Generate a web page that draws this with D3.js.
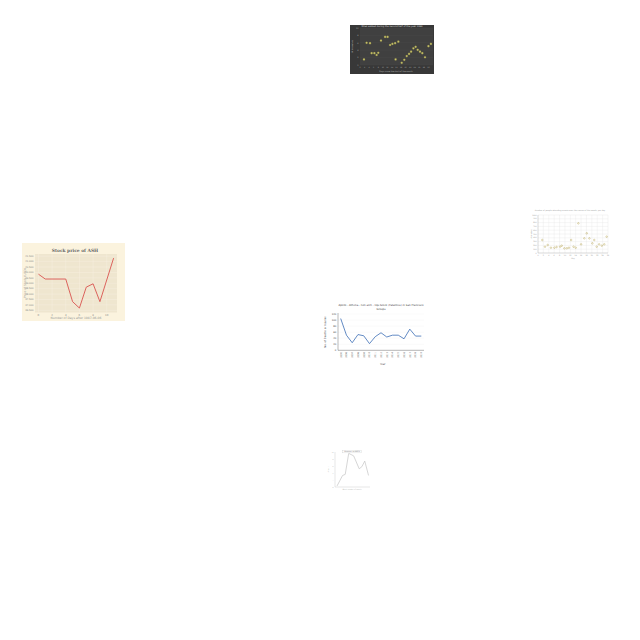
<!DOCTYPE html>
<html><head><meta charset="utf-8">
<script src="https://cdn.jsdelivr.net/npm/d3@7"></script>
<style>html,body{margin:0;padding:0;background:#fff;}svg{display:block;}</style>
</head><body>
<script>
// ---- Chart 1: stock price ----
const stockDays = [0, 1, 4, 5, 6, 7, 8, 9, 11];
const stockPrice = [39.84, 39.39, 39.39, 37.30, 36.71, 38.64, 38.95, 37.30, 41.32];
const stockYTicks = [36.5, 37.0, 37.5, 38.0, 38.5, 39.0, 39.5, 40.0, 40.5, 41.0, 41.5];
const stockXTicks = [0, 2, 4, 6, 8, 10];

// ---- Chart 2: dark scatter ----
const walkDay = [1.75, 2.9, 4.4, 5.1, 6.3, 7.3, 8.0, 9.2, 11, 12.1, 13.2, 14.2, 15.4, 15.6, 16.8, 18.3, 19.4, 20.5, 21.5, 22.4, 23.4, 24.4, 25.3, 26.3, 27.3, 28.5, 30, 31.1];
const walkMiles = [1.5, 6.0, 5.9, 3.2, 3.2, 2.7, 3.3, 6.6, 7.6, 7.6, 5.4, 5.7, 5.9, 1.5, 6.3, 0.6, 1.4, 2.4, 3.0, 3.6, 4.5, 4.9, 4.1, 3.6, 3.2, 2.1, 5.1, 5.7];
const walkXTicks = [0, 2, 4, 6, 8, 10, 12, 14, 16, 18, 20, 22, 24, 26, 28, 30];
const walkYTicks = [0, 2, 4, 6, 8, 10];

// ---- Chart 3: light scatter ----
const lightX = [1.6, 2.6, 3.6, 4.8, 6.1, 6.9, 8.2, 8.8, 9.8, 10.7, 11.5, 12.3, 13.2, 14, 15, 16, 17.2, 18.1, 19.1, 20.2, 20.9, 21.8, 22.7, 23.7, 24.6, 25.5];
const lightY = [342, 166, 211, 140, 140, 158, 166, 193, 123, 123, 140, 342, 166, 140, 781, 228, 386, 518, 386, 254, 342, 166, 228, 193, 228, 430];
const lightYTicks = [0, 100, 200, 300, 400, 500, 600, 700, 800, 900, 1000];
const lightXTicks = [0, 2, 4, 6, 8, 10, 12, 14, 16, 18, 20, 22, 24, 26];

// ---- Chart 4: blue line ----
const deathYears = ["2005","2006","2007","2008","2009","2010","2011","2012","2013","2014","2015","2016","2017","2018","2019"];
const deathCounts = [105, 50, 25, 52, 48, 22, 45, 58, 44, 50, 50, 38, 70, 47, 47];
const deathYTicks = [0, 20, 40, 60, 80, 100, 120];

// ---- Chart 5: gray line ----
const measureX = [0.7, 2.6, 3.5, 4.7, 6.4, 8.3, 9.2, 10.2, 11.5];
const measureY = [0.3, 3.3, 3.6, 9.6, 8.9, 5.2, 5.8, 7.4, 3.3];
const measureYTicks = [0, 2, 4, 6, 8, 10];

const svg = d3.select("body").append("svg").attr("width", 640).attr("height", 640);
const sans = "DejaVu Sans, sans-serif";

// ===== Chart 1 =====
{
  const g = svg.append("g");
  g.append("rect").attr("x", 22).attr("y", 243).attr("width", 103).attr("height", 78).attr("fill", "#fbf3de");
  const x = d3.scaleLinear().domain([-0.5, 11.5]).range([35, 117]);
  const y = d3.scaleLinear().domain([36.3, 41.7]).range([312.5, 254]);
  g.append("rect").attr("x", 35).attr("y", 254).attr("width", 82).attr("height", 58.5).attr("fill", "#efe6cf");
  g.selectAll(".gy").data(stockYTicks).join("line").attr("x1", 35).attr("x2", 117)
    .attr("y1", d => y(d)).attr("y2", d => y(d)).attr("stroke", "#f8f1e2").attr("stroke-width", 0.4);
  g.selectAll(".gx").data(stockXTicks).join("line").attr("y1", 254).attr("y2", 312.5)
    .attr("x1", d => x(d)).attr("x2", d => x(d)).attr("stroke", "#f8f1e2").attr("stroke-width", 0.4);
  g.selectAll(".ty").data(stockYTicks).join("text").attr("x", 33.5).attr("y", d => y(d) + 0.8)
    .attr("text-anchor", "end").attr("font-size", 2.4).attr("font-family", sans).attr("fill", "#8a8a8a")
    .text(d => d.toFixed(3));
  g.selectAll(".tx").data(stockXTicks).join("text").attr("x", d => x(d)).attr("y", 315.5)
    .attr("text-anchor", "middle").attr("font-size", 2.6).attr("font-family", sans).attr("fill", "#8a8a8a").text(d => d);
  g.append("path").datum(stockDays.map((d, i) => [d, stockPrice[i]]))
    .attr("d", d3.line().x(d => x(d[0])).y(d => y(d[1])))
    .attr("fill", "none").attr("stroke", "#d9534f").attr("stroke-width", 0.9);
  g.append("text").attr("x", 75).attr("y", 252).attr("text-anchor", "middle").attr("font-size", 4.4)
    .attr("font-weight", "bold").attr("font-family", "DejaVu Serif, serif").attr("fill", "#666").text("Stock price of ASH");
  g.append("text").attr("x", 76).attr("y", 319.3).attr("text-anchor", "middle").attr("font-size", 3)
    .attr("font-family", sans).attr("fill", "#999").text("Number of Days after 1987-06-06");
  g.append("text").attr("transform", "translate(25.5,283) rotate(-90)").attr("text-anchor", "middle")
    .attr("font-size", 3).attr("font-family", sans).attr("fill", "#999").text("Price of Stock (USD)");
}

// ===== Chart 2 =====
{
  const g = svg.append("g");
  g.append("rect").attr("x", 350).attr("y", 25).attr("width", 84).attr("height", 49).attr("fill", "#383838");
  const x = d3.scaleLinear().domain([0, 32]).range([360, 433]);
  const y = d3.scaleLinear().domain([0, 10]).range([65, 28]);
  g.append("rect").attr("x", 360).attr("y", 28).attr("width", 73).attr("height", 37).attr("fill", "#404040");
  g.selectAll(".gy").data(walkYTicks).join("line").attr("x1", 360).attr("x2", 433)
    .attr("y1", d => y(d)).attr("y2", d => y(d)).attr("stroke", "#4d4d4d").attr("stroke-width", 0.3);
  g.selectAll(".ty").data(walkYTicks).join("text").attr("x", 358.5).attr("y", d => y(d) + 0.7)
    .attr("text-anchor", "end").attr("font-size", 2).attr("font-family", sans).attr("fill", "#aaa").text(d => d);
  g.selectAll(".tx").data(walkXTicks).join("text").attr("x", d => x(d)).attr("y", 67.5)
    .attr("text-anchor", "middle").attr("font-size", 1.8).attr("font-family", sans).attr("fill", "#aaa").text(d => d);
  g.selectAll("circle").data(walkDay.map((d, i) => [d, walkMiles[i]])).join("circle")
    .attr("cx", d => x(d[0])).attr("cy", d => y(d[1])).attr("r", 1.1)
    .attr("fill", "#c9c46a").attr("stroke", "#6f6d3a").attr("stroke-width", 0.3);
  g.append("text").attr("x", 392).attr("y", 27.3).attr("text-anchor", "middle").attr("font-size", 2.3)
    .attr("font-family", sans).attr("fill", "#ddd").text("Miles walked during the second half of the year 1983");
  g.append("text").attr("x", 396).attr("y", 71.5).attr("text-anchor", "middle").attr("font-size", 2)
    .attr("font-family", sans).attr("fill", "#bbb").text("Days since the start of the month");
  g.append("text").attr("transform", "translate(353,46) rotate(-90)").attr("text-anchor", "middle")
    .attr("font-size", 2).attr("font-family", sans).attr("fill", "#bbb").text("Miles walked");
}

// ===== Chart 3 =====
{
  const g = svg.append("g");
  const x = d3.scaleLinear().domain([0, 26]).range([538, 608]);
  const y = d3.scaleLinear().domain([0, 1000]).range([253, 215]);
  g.selectAll(".gy").data(lightYTicks).join("line").attr("x1", 538).attr("x2", 608)
    .attr("y1", d => y(d)).attr("y2", d => y(d)).attr("stroke", "#e6e6e6").attr("stroke-width", 0.35);
  g.selectAll(".gx").data(lightXTicks).join("line").attr("y1", 215).attr("y2", 253)
    .attr("x1", d => x(d)).attr("x2", d => x(d)).attr("stroke", "#e6e6e6").attr("stroke-width", 0.35);
  g.append("line").attr("x1", 538).attr("x2", 608).attr("y1", 253).attr("y2", 253).attr("stroke", "#aaa").attr("stroke-width", 0.35);
  g.append("line").attr("x1", 538).attr("x2", 538).attr("y1", 215).attr("y2", 253).attr("stroke", "#aaa").attr("stroke-width", 0.35);
  g.selectAll(".ty").data(lightYTicks).join("text").attr("x", 536.5).attr("y", d => y(d) + 0.6)
    .attr("text-anchor", "end").attr("font-size", 1.7).attr("font-family", sans).attr("fill", "#999").text(d => d);
  g.selectAll(".tx").data(lightXTicks).join("text").attr("x", d => x(d)).attr("y", 255.5)
    .attr("text-anchor", "middle").attr("font-size", 1.7).attr("font-family", sans).attr("fill", "#999").text(d => d);
  g.selectAll("circle").data(lightX.map((d, i) => [d, lightY[i]])).join("circle")
    .attr("cx", d => x(d[0])).attr("cy", d => y(d[1])).attr("r", 0.8)
    .attr("fill", "none").attr("stroke", "#b09c45").attr("stroke-width", 0.4);
  g.append("text").attr("x", 570).attr("y", 211).attr("text-anchor", "middle").attr("font-size", 1.9)
    .attr("font-family", sans).attr("fill", "#999").text("Number of people attending events over the course of the month, per day");
  g.append("text").attr("x", 573).attr("y", 259).attr("text-anchor", "middle").attr("font-size", 1.8)
    .attr("font-family", sans).attr("fill", "#999").text("Day");
  g.append("text").attr("transform", "translate(532,234) rotate(-90)").attr("text-anchor", "middle")
    .attr("font-size", 1.8).attr("font-family", sans).attr("fill", "#999").text("Attendees");
}

// ===== Chart 4 =====
{
  const g = svg.append("g");
  const x = d3.scalePoint().domain(deathYears).range([340.7, 421.3]);
  const y = d3.scaleLinear().domain([0, 120]).range([350.3, 314]);
  g.selectAll(".gy").data(deathYTicks).join("line").attr("x1", 338).attr("x2", 424)
    .attr("y1", d => y(d)).attr("y2", d => y(d)).attr("stroke", "#eeeeee").attr("stroke-width", 0.3);
  g.append("line").attr("x1", 338).attr("x2", 338).attr("y1", 313).attr("y2", 350.3).attr("stroke", "#333").attr("stroke-width", 0.35);
  g.append("line").attr("x1", 338).attr("x2", 424).attr("y1", 350.3).attr("y2", 350.3).attr("stroke", "#333").attr("stroke-width", 0.35);
  g.selectAll(".ty").data(deathYTicks).join("text").attr("x", 336.3).attr("y", d => y(d) + 0.8)
    .attr("text-anchor", "end").attr("font-size", 2.4).attr("font-family", sans).attr("fill", "#444").text(d => d);
  g.selectAll(".tx").data(deathYears).join("text")
    .attr("transform", d => `translate(${x(d) + 0.8},352) rotate(-90)`)
    .attr("text-anchor", "end").attr("font-size", 2.3).attr("font-family", sans).attr("fill", "#444").text(d => d);
  g.append("path").datum(deathYears.map((d, i) => [d, deathCounts[i]]))
    .attr("d", d3.line().x(d => x(d[0])).y(d => y(d[1])))
    .attr("fill", "none").attr("stroke", "#3b6db5").attr("stroke-width", 0.8);
  g.append("text").attr("x", 381).attr("y", 306).attr("text-anchor", "middle").attr("font-size", 2.6)
    .attr("font-family", sans).attr("fill", "#444").text("Apollo - Athena - non alch - liqu Glock (Fatalities) in San Francisco");
  g.append("text").attr("x", 381).attr("y", 310).attr("text-anchor", "middle").attr("font-size", 2.6)
    .attr("font-family", sans).attr("fill", "#444").text("Groups");
  g.append("text").attr("x", 382.7).attr("y", 364.5).attr("text-anchor", "middle").attr("font-size", 2.6)
    .attr("font-family", sans).attr("fill", "#444").text("Year");
  g.append("text").attr("transform", "translate(326,332) rotate(-90)").attr("text-anchor", "middle")
    .attr("font-size", 2.6).attr("font-family", sans).attr("fill", "#444").text("No. of Deaths or Injuries");
}

// ===== Chart 5 =====
{
  const g = svg.append("g");
  const x = d3.scaleLinear().domain([0, 12]).range([335, 370]);
  const y = d3.scaleLinear().domain([0, 10]).range([487, 452]);
  g.append("line").attr("x1", 335).attr("x2", 335).attr("y1", 452).attr("y2", 487).attr("stroke", "#bbb").attr("stroke-width", 0.35);
  g.append("line").attr("x1", 335).attr("x2", 370).attr("y1", 487).attr("y2", 487).attr("stroke", "#bbb").attr("stroke-width", 0.35);
  g.selectAll(".ty").data(measureYTicks).join("text").attr("x", 333.5).attr("y", d => y(d) + 0.5)
    .attr("text-anchor", "end").attr("font-size", 1.5).attr("font-family", sans).attr("fill", "#aaa").text(d => d);
  g.append("path").datum(measureX.map((d, i) => [d, measureY[i]]))
    .attr("d", d3.line().x(d => x(d[0])).y(d => y(d[1])))
    .attr("fill", "none").attr("stroke", "#c4c4c4").attr("stroke-width", 0.7);
  g.append("rect").attr("x", 342.7).attr("y", 450.3).attr("width", 18.6).attr("height", 2.6)
    .attr("fill", "#fff").attr("stroke", "#bbb").attr("stroke-width", 0.25);
  g.append("text").attr("x", 352).attr("y", 452.3).attr("text-anchor", "middle").attr("font-size", 1.8)
    .attr("font-family", sans).attr("fill", "#777").text("Measure of KNO3");
  g.append("text").attr("x", 352).attr("y", 490).attr("text-anchor", "middle").attr("font-size", 1.6)
    .attr("font-family", sans).attr("fill", "#aaa").text("Week number of month");
  g.append("text").attr("transform", "translate(329,469) rotate(-90)").attr("text-anchor", "middle")
    .attr("font-size", 1.6).attr("font-family", sans).attr("fill", "#aaa").text("Amount");
}
</script>
</body></html>
